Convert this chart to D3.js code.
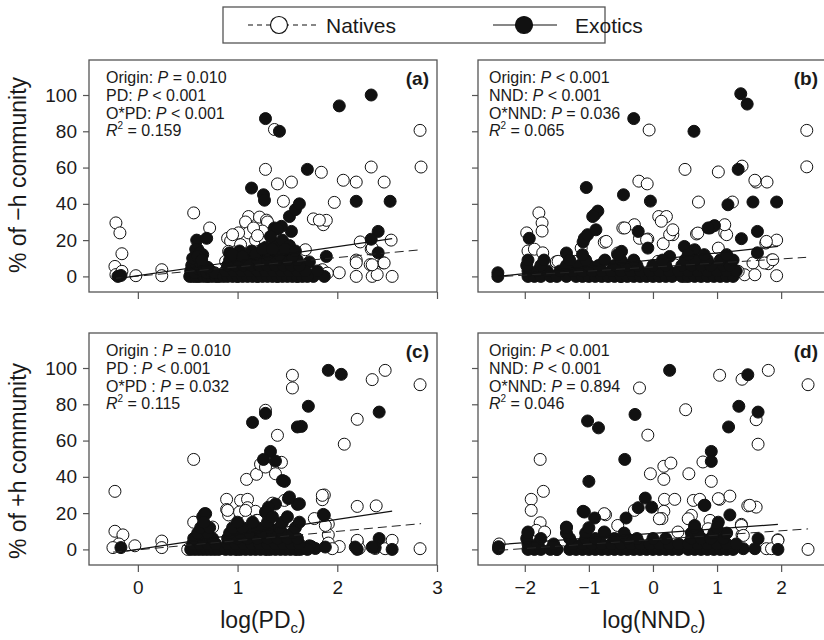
<!DOCTYPE html>
<html>
<head>
<meta charset="utf-8">
<script src="https://cdn.jsdelivr.net/npm/d3@7"></script>
<style>
  body { margin: 0; background: #fff; }
  svg { display: block; font-family: Arial, "Liberation Sans", Helvetica, sans-serif; }
</style>
</head>
<body>
<svg id="chart" width="824" height="640"></svg>
<script>
// ---- data: [log value, % of community] ----
const aNat = [[-0.22,29.5],[-0.18,24],[-0.16,12.5],[-0.23,5.5],[-0.22,1],[-0.16,2.8],[-0.02,0.4],[0.24,3.7],[0.24,0.4],
  [0.56,35],[0.72,26.7],[0.90,21],[0.93,19.5],[0.91,13.8],[0.88,8.3],
  [1.11,33],[1.09,28.5],[1.22,32.7],[1.08,30],[1.11,24],[1.29,31],[1.30,30],[1.25,25],[1.18,20],[1.03,17.5],[1.08,12],[1.28,19],[1.16,26.7],[1.01,24],[0.95,23],[1.20,22.5],
  [1.28,59],[1.37,81],[1.40,51],[1.54,52],[1.46,41.4],[1.84,57.4],[1.97,40.8],[2.06,53],[2.19,52],[2.34,60.3],[2.47,52],[2.83,80.5],[2.84,60.3],
  [1.76,31.7],[1.86,28.5],[1.89,30.9],[1.82,31],[1.68,14.7],
  [2.23,19],[2.19,9],[2.19,7.5],[2.34,15],[2.33,6.5],[2.46,7.5],[2.54,20],[2.55,0],[2.35,0],[2.40,1],[2.19,0],[2.02,2],[1.85,3.7],[1.90,1.8],[2.35,6.4],[2.47,7.4],[2.35,15.6],
  [0.60,0],[0.70,0],[0.80,0],[1.00,0],[1.20,0],[1.40,0],[1.60,0],[1.75,2],[0.95,5],[1.25,8],[1.50,10],[1.65,5],[1.35,14],[1.15,10]];

const aExo = [[-0.20,0],[-0.17,0.5],
  [0.59,20],[0.69,21],[0.60,15],[0.65,12],[0.58,15],[0.62,13],
  [0.52,0],[0.55,0],[0.58,0],[0.62,0],[0.66,0],[0.70,0],[0.74,0],[0.78,0],[0.82,0],
  [0.53,3],[0.57,2],[0.61,4],[0.65,3],[0.69,2],[0.73,3],[0.77,2],
  [0.54,6],[0.58,7],[0.62,8],[0.66,6],[0.70,5],[0.55,10],[0.60,11],[0.64,9],
  [1.14,48.7],[1.26,45],[1.27,42],[1.28,87],[1.42,80],[1.70,59],[2.02,94],[2.34,100],[2.19,41.4],[2.53,41.4],
  [2.41,24.8],[2.34,20.5],[2.41,13],[1.52,33],[1.58,36.8],[1.62,40],[1.54,24.8],[1.37,26.7],[1.44,27.6],[1.40,26],
  [1.89,11],[1.76,0],[1.87,0],[1.14,14],[1.02,14],[0.92,13],[1.38,18],[1.28,16],[1.33,22],[1.45,20],[1.52,17],[1.72,8],[1.80,3],
  [0.86,0],[0.90,0],[0.95,0],[1.00,0],[1.05,0],[1.10,0],[1.15,0],[1.20,0],[1.25,0],[1.30,0],[1.35,0],[1.40,0],[1.45,0],[1.50,0],[1.55,0],[1.60,0],[1.65,0],[1.70,0],
  [0.88,3],[0.96,3],[1.04,3],[1.12,3],[1.20,3],[1.28,3],[1.36,3],[1.44,3],[1.52,3],[1.60,3],[1.68,3],
  [0.90,6],[0.98,6],[1.06,6],[1.14,6],[1.22,6],[1.30,6],[1.38,6],[1.46,6],[1.54,6],[1.62,6],
  [0.92,9],[1.00,9],[1.10,9],[1.20,9],[1.30,9],[1.40,9],[1.50,9],[1.60,9],
  [0.95,12],[1.05,11],[1.18,12],[1.30,12],[1.42,12],[1.55,11],
  [1.25,15],[1.35,15],[1.48,15],[1.58,14]];

const bNat = [[-0.06,80.7],[2.40,80.5],[2.40,60.4],[0.50,59],[1.02,57.6],[1.39,60.8],[-0.22,52.5],[-0.09,51],[1.61,52],[1.78,52],[1.59,53],[0.71,41],[1.24,41],
  [-1.78,35],[-1.73,29.5],[-1.73,25],[-1.97,24],[0.09,33],[0.21,33],[0.13,30.4],[0.31,23],[-0.47,26.7],[-0.29,28.5],[-0.21,21],[-0.08,20.6],
  [-0.76,18.8],[0.16,18],[0.68,23.4],[1.12,24],[1.15,23],[1.12,28.5],[1.76,18.4],[1.93,20],[1.85,9],[1.80,7],[1.93,0.4],
  [-1.95,14],[-1.85,15],[-1.72,13],[-1.51,8],[-1.69,7.4],[-1.48,8.3],[-1.12,15.6],[-0.73,19.3],[-0.44,26.7],[-0.10,20.2],[0.26,23],[0.31,25.7],
  [0.70,23.9],[1.77,19.3],[1.74,7.4],[1.87,9.2],[1.56,7.4],[1.43,0.9],[1.59,0.9],[1.22,0.9],[1.33,2.8],[1.02,15.6],[-0.55,12.9],[-0.76,8.3],
  [-1.22,8.3],[0.08,8.3],[0.81,10],[0.34,6.4],[-0.5,0],[0.5,0],[-1.0,3],[0.9,4]];

const bExo = [[1.37,100.7],[1.47,95],[-0.30,87],[0.64,80],[1.33,59],[-1.04,49],[-0.46,45],[-0.04,41.5],[-0.91,34],[-0.86,36],[-0.94,33],
  [1.17,39.5],[1.56,41],[1.93,41],[0.89,26.7],[0.96,28],[0.86,26.7],[1.38,20.8],[1.63,24.8],[1.63,13],[-1.09,19],[-1.07,21],[-1.02,23],
  [-0.89,25.7],[-1.93,21],[-0.23,24.8],[-0.08,15.6],[-0.49,13.8],[0.26,11],[0.49,16.5],[0.65,14.7],[-2.42,2],[-2.42,0],[-1.35,12.9],
  [-1.95,0],[-1.85,0],[-1.75,0],[-1.6,0],[-1.5,0],[-1.35,0],[-1.2,0],[-1.1,0],[-1.0,0],[-0.9,0],[-0.8,0],[-0.7,0],[-0.6,0],[-0.5,0],[-0.4,0],[-0.3,0],
  [-0.2,0],[-0.1,0],[0.0,0],[0.1,0],[0.2,0],[0.3,0],[0.45,0],[0.55,0],[0.65,0],[0.75,0],[0.85,0],[0.95,0],[1.05,0],[1.15,0],[1.25,0],
  [-1.95,3],[-1.8,3],[-1.65,3],[-1.45,3],[-1.25,3],[-1.1,3],[-0.95,3],[-0.8,3],[-0.65,3],[-0.5,3],[-0.35,3],[-0.2,3],[-0.05,3],[0.1,3],[0.25,3],
  [0.4,3],[0.55,3],[0.7,3],[0.85,3],[1.0,3],[1.15,3],[1.3,3],
  [-1.97,6],[-1.75,6],[-1.35,6],[-1.15,6],[-1.0,6],[-0.85,6],[-0.6,6],[-0.4,6],[-0.25,6],[0.0,6],[0.2,6],[0.45,6],[0.6,6],[0.75,6],[0.9,6],[1.1,6],[1.2,6],
  [-1.95,9],[-1.7,9],[-1.3,9],[-1.05,9],[-0.75,9],[-0.5,9],[-0.3,9],[0.15,9],[0.5,9],[0.65,9],[0.85,9],[1.05,9],[1.25,9],
  [-1.1,12],[-0.55,12],[0.55,12],[0.8,12],[1.15,12]];

const cNat = [[-0.23,32],[-0.23,10],[-0.15,8],[-0.19,3],[-0.25,1],[-0.03,2],[0.24,4.6],[0.24,1],[0.56,49.6],[0.56,15],
  [0.89,27.6],[0.89,22],[0.91,19],[1.03,27],[1.10,27.6],[1.09,38.6],[1.19,41.4],[1.23,47],[1.28,76.7],[1.28,45.4],[1.38,41.7],[1.40,62.9],
  [1.44,48],[1.55,96],[1.55,89],[2.07,58],[2.20,71.7],[2.35,93.6],[2.48,98.7],[2.83,90.8],[2.83,0.4],[1.87,30],[1.85,27.4],[1.77,17],
  [1.91,14],[1.91,8],[1.91,3.5],[2.20,23.7],[2.39,24],[2.20,4],[2.22,0.5],[2.38,0.5],[2.48,0.4],[2.55,5],[2.02,1.6],[1.95,0.4],
  [1.02,20.6],[1.10,23],[1.18,21],[1.19,16],[1.35,25.5],[1.47,27],[0.75,12.3],[1.08,21.5],[1.20,16],[1.85,29.8],[1.88,13.2],[2.2,5],
  [0.90,21.5],[0.5,0],[1.0,0],[1.3,0],[1.6,0]];

const cExo = [[-0.17,1],[0.67,19.7],[0.65,18],[0.68,19.7],[1.15,70],[1.28,75],[1.33,54],[1.26,49.6],[1.38,48.7],[1.45,38],[1.47,37.5],
  [1.71,78.9],[1.60,67.5],[1.64,67.8],[1.91,98.7],[2.04,96.5],[2.42,75.7],[1.51,28],[1.60,24.8],[1.38,25],[1.86,19.3],[1.52,28.9],
  [1.62,25.2],[1.31,23.3],[1.28,20.6],[1.87,18.8],[2.42,6],[2.55,0],[2.20,0],[2.38,1],[1.74,1.6],[1.78,0.5],[1.72,2],[1.88,1.3],[2.18,1.3],[2.35,1.3],
  [0.53,0],[0.57,0],[0.61,0],[0.65,0],[0.69,0],[0.73,0],[0.77,0],[0.81,0],[0.88,0],[0.93,0],[0.98,0],[1.03,0],[1.08,0],[1.13,0],[1.18,0],
  [1.23,0],[1.28,0],[1.33,0],[1.38,0],[1.43,0],[1.48,0],[1.53,0],[1.58,0],[1.63,0],[1.70,0],
  [0.55,3],[0.62,3],[0.70,3],[0.78,3],[0.90,3],[0.98,3],[1.06,3],[1.14,3],[1.22,3],[1.30,3],[1.38,3],[1.46,3],[1.54,3],[1.62,3],
  [0.56,6],[0.65,6],[0.75,6],[0.90,6],[1.00,6],[1.10,6],[1.20,6],[1.30,6],[1.40,6],[1.50,6],[1.60,6],
  [0.60,9],[0.70,9],[0.92,9],[1.02,9],[1.12,9],[1.25,9],[1.35,9],[1.45,9],[1.55,9],
  [0.63,12],[0.72,12],[0.95,12],[1.05,12],[1.20,12],[1.32,12],[1.42,12],[1.58,12],
  [0.66,15],[1.00,15],[1.15,15],[1.30,15],[1.45,15],[1.62,15],[1.35,18],[1.50,18]];

const dNat = [[-1.76,49.6],[-1.71,32],[-1.90,27.6],[-1.90,21.5],[-1.76,14.7],[-0.21,89],[-0.08,63],[1.04,96],[1.39,93.8],[1.80,98.7],
  [2.42,90.8],[2.42,0],[0.51,77],[1.61,71.5],[1.64,58],[-0.04,41.7],[0.17,45.8],[0.17,38.6],[0.28,47.6],[0.56,41.7],[0.78,48.2],[0.91,37.5],
  [0.18,27.6],[0.34,27.6],[0.63,27],[0.73,27.6],[1.04,27.6],[1.20,29.4],[1.48,24],[1.61,23.3],[0.17,21],[0.14,17],[0.60,18.8],[-0.74,19.1],
  [1.95,5.3],[1.77,0.4],[1.85,0.4],[1.38,13.8],[1.39,8],[-1.82,10.5],[-1.69,9.6],[-0.76,19.7],[-0.55,13.2],[-0.29,21.5],[0.10,16.9],
  [1.02,28],[1.51,24.3],[1.38,13.2],[1.41,7.7],[0.89,16],[0.55,16.9],[0.86,11.4],[0.39,9.6],[1.95,5],[-2.4,3],[-1.5,0],[-0.6,2],[0.3,1],[1.1,3]];

const dExo = [[0.26,98.7],[1.48,96.3],[-1.02,70.8],[-0.85,67],[-0.28,74.4],[1.34,78.9],[1.64,75.7],[1.18,67.5],[-0.44,49.6],[0.91,54],
  [0.91,48.5],[-1.00,37.5],[-0.12,28.3],[-0.02,23.3],[-0.23,23],[0.80,24.3],[1.20,19],[-1.09,21],[-1.07,20.6],[-0.91,17.3],[-0.42,17.3],
  [1.64,5.9],[1.41,0.4],[1.59,0.4],[1.95,0],[-2.41,0.4],[-2.41,1.5],[-1.95,9.6],[-1.35,12.3],[0.81,24.3],[0.65,13.2],[1.02,15],[-0.76,9.6],
  [-1.95,0],[-1.85,0],[-1.75,0],[-1.6,0],[-1.5,0],[-1.3,0],[-1.2,0],[-1.1,0],[-1.0,0],[-0.9,0],[-0.8,0],[-0.7,0],[-0.6,0],[-0.5,0],[-0.4,0],
  [-0.3,0],[-0.2,0],[-0.1,0],[0.0,0],[0.1,0],[0.2,0],[0.3,0],[0.4,0],[0.55,0],[0.65,0],[0.75,0],[0.85,0],[0.95,0],[1.05,0],[1.15,0],[1.25,0],
  [-1.95,3],[-1.8,3],[-1.55,3],[-1.25,3],[-1.1,3],[-0.95,3],[-0.8,3],[-0.65,3],[-0.5,3],[-0.35,3],[-0.2,3],[-0.05,3],[0.1,3],[0.25,3],
  [0.4,3],[0.55,3],[0.7,3],[0.85,3],[1.0,3],[1.15,3],[1.3,3],
  [-1.97,6],[-1.75,6],[-1.3,6],[-1.05,6],[-0.9,6],[-0.6,6],[-0.4,6],[-0.25,6],[0.0,6],[0.2,6],[0.6,6],[0.75,6],[0.9,6],[1.1,6],
  [-1.95,9],[-1.35,9],[-1.05,9],[-0.75,9],[-0.45,9],[0.6,9],[0.7,9],[0.95,9],[1.15,9],
  [-1.35,12],[-1.0,12],[0.65,12],[1.0,12]];

// fitted lines, endpoints
const aNatFit = [[-0.22,-1],[2.84,14.7]];
const aExoFit = [[-0.17,-1],[2.55,20.8]];
const bNatFit = [[-2.32,0],[2.39,10.5]];
const bExoFit = [[-2.42,0],[1.95,16.5]];
const cNatFit = [[-0.25,-1.5],[2.84,14.2]];
const cExoFit = [[-0.12,-1],[2.55,21.1]];
const dNatFit = [[-2.40,-0.5],[2.42,11.3]];
const dExoFit = [[-2.42,2.6],[1.95,13.8]];

// stats text: [label, relation, value]
const aStats = [['Origin: ', '=', '0.010'], ['PD: ', '<', '0.001'], ['O*PD: ', '<', '0.001']];
const bStats = [['Origin: ', '<', '0.001'], ['NND: ', '<', '0.001'], ['O*NND: ', '=', '0.036']];
const cStats = [['Origin : ', '=', '0.010'], ['PD :  ', '<', '0.001'], ['O*PD : ', '=', '0.032']];
const dStats = [['Origin: ', '<', '0.001'], ['NND: ', '<', '0.001'], ['O*NND: ', '=', '0.894']];
const r2Values = ['0.159', '0.065', '0.115', '0.046'];
const panelTags = ['(a)', '(b)', '(c)', '(d)'];

const yTicks = [0, 20, 40, 60, 80, 100];
const pdTicks = [0, 1, 2, 3];
const nndTicks = [-2, -1, 0, 1, 2];
const yTitles = ['% of \u2212h community', '% of +h community'];
const legendItems = ['Natives', 'Exotics'];

// ---- layout ----
const svg = d3.select('#chart');
const cols = [{ left: 89, right: 437, dom: [-0.49, 3.0], ticks: pdTicks, textOff: 17 },
              { left: 478, right: 826, dom: [-2.73, 2.70], ticks: nndTicks, textOff: 11 }];
const rows = [{ top: 60, bottom: 292 }, { top: 333, bottom: 565 }];
const yDom = [-8.6, 119.3];
const frameColor = '#555';
const R = 6;

const panels = [
  { c: 0, r: 0, nat: aNat, exo: aExo, natFit: aNatFit, exoFit: aExoFit, stats: aStats },
  { c: 1, r: 0, nat: bNat, exo: bExo, natFit: bNatFit, exoFit: bExoFit, stats: bStats },
  { c: 0, r: 1, nat: cNat, exo: cExo, natFit: cNatFit, exoFit: cExoFit, stats: cStats },
  { c: 1, r: 1, nat: dNat, exo: dExo, natFit: dNatFit, exoFit: dExoFit, stats: dStats },
];

panels.forEach((p, i) => {
  const col = cols[p.c], row = rows[p.r];
  const x = d3.scaleLinear().domain(col.dom).range([col.left, col.right]);
  const y = d3.scaleLinear().domain(yDom).range([row.bottom, row.top]);
  const g = svg.append('g');

  // axes (ticks outside the frame)
  const yAx = g.append('g')
    .attr('transform', `translate(${col.left},0)`)
    .call(d3.axisLeft(y).tickValues(yTicks).tickSize(6).tickPadding(6)
      .tickFormat(p.c === 0 ? d3.format('d') : () => ''));
  const xAx = g.append('g')
    .attr('transform', `translate(0,${row.bottom})`)
    .call(d3.axisBottom(x).tickValues(col.ticks).tickSize(7).tickPadding(9)
      .tickFormat(p.r === 1 ? d3.format('d') : () => ''));
  [yAx, xAx].forEach(ax => {
    ax.attr('font-size', 19).attr('font-family', 'Arial, "Liberation Sans", sans-serif');
    ax.select('.domain').remove();
    ax.selectAll('.tick line').attr('stroke', frameColor).attr('stroke-width', 1.2);
    ax.selectAll('.tick text').attr('fill', '#1a1a1a');
  });

  // points: natives underneath, exotics on top
  g.append('g').selectAll('circle').data(p.nat).join('circle')
    .attr('cx', d => x(d[0])).attr('cy', d => y(d[1])).attr('r', R)
    .attr('fill', '#fff').attr('stroke', '#111').attr('stroke-width', 1);
  g.append('g').selectAll('circle').data(p.exo).join('circle')
    .attr('cx', d => x(d[0])).attr('cy', d => y(d[1])).attr('r', R)
    .attr('fill', '#111').attr('stroke', '#111').attr('stroke-width', 1);

  // regression lines
  const line = d3.line().x(d => x(d[0])).y(d => y(d[1]));
  g.append('path').attr('d', line(p.natFit)).attr('fill', 'none')
    .attr('stroke', '#222').attr('stroke-width', 1).attr('stroke-dasharray', '9,5');
  g.append('path').attr('d', line(p.exoFit)).attr('fill', 'none')
    .attr('stroke', '#111').attr('stroke-width', 1.2);

  // frame
  g.append('rect')
    .attr('x', col.left).attr('y', row.top)
    .attr('width', col.right - col.left).attr('height', row.bottom - row.top)
    .attr('fill', 'none').attr('stroke', frameColor).attr('stroke-width', 1.3);

  // stats annotation
  const tx = col.left + col.textOff;
  const ann = g.append('g').attr('font-size', 16).attr('fill', '#1a1a1a');
  p.stats.forEach((s, k) => {
    const t = ann.append('text').attr('x', tx).attr('y', row.top + 23 + k * 17.8);
    t.append('tspan').text(s[0]);
    t.append('tspan').attr('font-style', 'italic').text('P');
    t.append('tspan').text(` ${s[1]} ${s[2]}`);
  });
  const r2 = ann.append('text').attr('x', tx).attr('y', row.top + 23 + 3 * 17.8);
  r2.append('tspan').attr('font-style', 'italic').text('R');
  r2.append('tspan').attr('font-size', 10).attr('dy', -7).text('2');
  r2.append('tspan').attr('dy', 7).text(` = ${r2Values[i]}`);

  g.append('text')
    .attr('x', col.right - 8).attr('y', row.top + 25)
    .attr('text-anchor', 'end').attr('font-weight', 'bold').attr('font-size', 19)
    .attr('fill', '#1a1a1a').text(panelTags[i]);
});

// y titles
rows.forEach((row, k) => {
  const cy = k === 0 ? 175 : 461;
  svg.append('text')
    .attr('transform', `translate(26,${cy}) rotate(-90)`)
    .attr('text-anchor', 'middle').attr('font-size', 23).attr('fill', '#1a1a1a')
    .text(yTitles[k]);
});

// x titles with subscript c
[['log(PD', 263], ['log(NND', 654]].forEach(([lab, cx]) => {
  const t = svg.append('text').attr('x', cx).attr('y', 628)
    .attr('text-anchor', 'middle').attr('font-size', 23).attr('fill', '#1a1a1a');
  t.append('tspan').text(lab);
  t.append('tspan').attr('font-size', 15).attr('dy', 5).text('c');
  t.append('tspan').attr('dy', -5).text(')');
});

// legend
const lg = svg.append('g');
lg.append('rect').attr('x', 223).attr('y', 7).attr('width', 382).attr('height', 36)
  .attr('fill', '#fff').attr('stroke', frameColor).attr('stroke-width', 1.3);
const legendSpec = [
  { x1: 248, x2: 317, cx: 279, tx: 326, fill: '#fff', dash: '5,4' },
  { x1: 493, x2: 557, cx: 524, tx: 575, fill: '#111', dash: null },
];
legendSpec.forEach((s, k) => {
  lg.append('line').attr('x1', s.x1).attr('x2', s.x2).attr('y1', 25).attr('y2', 25)
    .attr('stroke', '#111').attr('stroke-width', 1.2).attr('stroke-dasharray', s.dash);
  lg.append('circle').attr('cx', s.cx).attr('cy', 25).attr('r', 8.5)
    .attr('fill', s.fill).attr('stroke', '#111').attr('stroke-width', 1.2);
  lg.append('text').attr('x', s.tx).attr('y', 33).attr('font-size', 21)
    .attr('fill', '#1a1a1a').text(legendItems[k]);
});
</script>
</body>
</html>
